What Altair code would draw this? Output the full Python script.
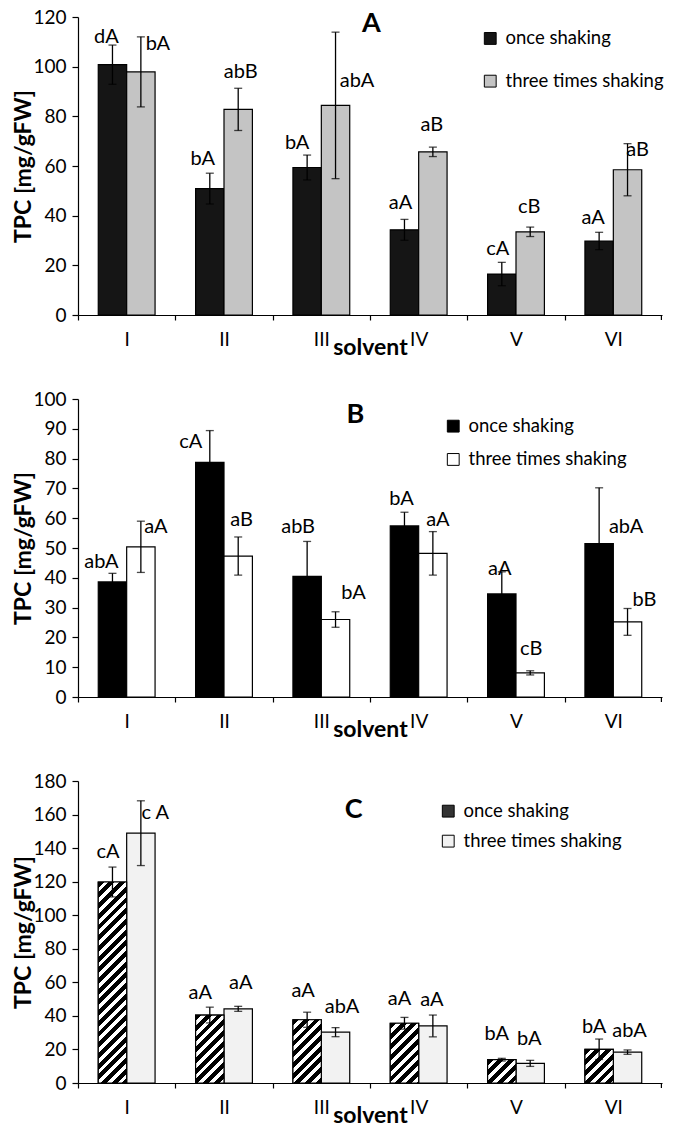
import altair as alt
import pandas as pd

# ---------------- data ----------------
solvents = ["I", "II", "III", "IV", "V", "VI"]
series = ["once shaking", "three times shaking"]

# Panel A
a_once = [100.8, 50.9, 59.4, 34.3, 16.5, 29.8]
a_once_err = [7.9, 6.2, 5.0, 4.2, 4.7, 3.5]
a_three = [97.9, 82.8, 84.4, 65.7, 33.5, 58.5]
a_three_err = [14.1, 8.5, 29.5, 1.9, 1.9, 10.5]
a_once_lab = ["dA", "bA", "bA", "aA", "cA", "aA"]
a_three_lab = ["bA", "abB", "abA", "aB", "cB", "aB"]

# Panel B
b_once = [38.6, 78.7, 40.5, 57.4, 34.6, 51.5]
b_once_err = [2.9, 10.7, 11.7, 4.6, 7.4, 18.7]
b_three = [50.4, 47.3, 26.0, 48.2, 8.1, 25.2]
b_three_err = [8.6, 6.4, 2.6, 7.3, 0.7, 4.5]
b_once_lab = ["abA", "cA", "abB", "bA", "aA", "abA"]
b_three_lab = ["aA", "aB", "bA", "aA", "cB", "bB"]

# Panel C
c_once = [119.8, 40.5, 37.7, 35.6, 13.9, 20.1]
c_once_err = [8.9, 4.7, 4.5, 3.5, 0.8, 6.1]
c_three = [148.9, 44.2, 30.3, 34.0, 11.7, 18.4]
c_three_err = [19.3, 1.5, 2.7, 6.5, 1.8, 1.3]
c_once_lab = ["cA", "aA", "aA", "aA", "bA", "bA"]
c_three_lab = ["c A", "aA", "abA", "aA", "bA", "abA"]

# ---------------- style ----------------
FONT = "Lato"
WIDTH = 584
P_IN = 0.4164
P_OUT = 0.2082
STEP = WIDTH / 6.0
SUBBAND = STEP * (1 - P_IN) / 2.0

# label nudges (dx, dy) in pixels relative to the top of the error bar
a_once_nudge = [(-6, -8), (-7, -14), (-10, -12), (-4, -16), (-4, -13), (-6, -14)]
a_three_nudge = [(17, 7), (2.5, -16), (21.5, 49), (-1, -22), (-1, -20), (10, 6)]
b_once_nudge = [(-11, -11), (-19, 11), (-9, -14), (-3, -13), (-2, -3), (27, 39)]
b_three_nudge = [(15, 6), (3.5, -17), (18, -19), (5, -12), (1, -22), (17, -8)]
c_once_nudge = [(-4.5, -15), (-9.6, -14), (-4, -21), (-5, -18), (-5, -24), (-5, -12)]
c_three_nudge = [(14.5, 12.5), (2.5, -23), (6.5, -21), (-1, -15), (-1, -21), (2, -19)]


def make_df(once, once_err, three, three_err, once_lab, three_lab):
    rows = []
    for i, s in enumerate(solvents):
        for ser, vals, errs, labs in ((series[0], once, once_err, once_lab),
                                      (series[1], three, three_err, three_lab)):
            v, e = vals[i], errs[i]
            rows.append({"solvent": s, "series": ser, "value": v, "err": e,
                         "lo": v - e, "hi": v + e, "label": labs[i]})
    return pd.DataFrame(rows)


def hatch(w, h, period=10.7, frac=0.55):
    a = (w + h) / (w * w + h * h)
    n = (w + h) / period
    stops = []
    k = 0
    while k < n:
        s0 = k / n
        s1 = min((k + frac) / n, 1.0)
        s2 = min((k + 1) / n, 1.0)
        stops += [alt.GradientStop(offset=s0, color="black"),
                  alt.GradientStop(offset=s1, color="black"),
                  alt.GradientStop(offset=s1, color="white"),
                  alt.GradientStop(offset=s2, color="white")]
        k += 1
    return alt.LinearGradient(gradient="linear", stops=stops,
                              x1=0, y1=0, x2=a * w, y2=a * h)


def panel(df, ymax, ystep, height, fills, letter, letter_pos, leg_x, leg_y,
          row_pad, once_nudge, three_nudge, hatch_once=False):
    yaxis = alt.Axis(values=list(range(0, ymax + 1, ystep)), title="TPC [mg/gFW]",
                     titleFontSize=23, titleFontWeight="bold", titleColor="black",
                     titleX=-55, titleY=height / 2, titleBaseline="middle",
                     labelFontSize=19, labelColor="black", labelPadding=6,
                     labelOverlap=False, labelFlush=False,
                     tickSize=6, domainColor="black", tickColor="black",
                     domainWidth=1.2, tickWidth=1.2, grid=False)
    xaxis = alt.Axis(title="solvent", labelAngle=0, tickOffset=-STEP / 2,
                     labelOffset=STEP / 2, tickSize=5, labelPadding=10,
                     labelFontSize=19, labelColor="black", domainColor="black",
                     tickColor="black", domainWidth=1.2, tickWidth=1.2,
                     titleFontSize=23, titleFontWeight="bold", titleColor="black",
                     titleX=WIDTH / 2, titleY=32, titleBaseline="middle",
                     titleAlign="center")
    xenc = alt.X("solvent:N",
                 scale=alt.Scale(domain=solvents, paddingInner=P_IN, paddingOuter=P_OUT),
                 axis=xaxis)
    xn = alt.X("solvent:N", axis=xaxis)
    xoff = alt.XOffset("series:N", scale=alt.Scale(domain=series, paddingInner=0, paddingOuter=0))
    xo = alt.XOffset("series:N")
    yenc = alt.Y("value:Q", scale=alt.Scale(domain=[0, ymax], nice=False, zero=True), axis=yaxis)

    def yq(field):
        return alt.Y(field, axis=yaxis)

    base = alt.Chart(df)
    bars = base.mark_bar(stroke="black", strokeWidth=1.2).encode(
        x=xenc, xOffset=xoff, y=yenc,
        fill=alt.Fill("series:N", scale=alt.Scale(domain=series, range=fills),
                      legend=alt.Legend(title=None, orient="none", legendX=leg_x, legendY=leg_y,
                                        symbolType="square", symbolSize=140,
                                        symbolStrokeColor="black", symbolStrokeWidth=1,
                                        labelFontSize=18.5, labelColor="black", labelFont=FONT,
                                        labelLimit=400, labelOffset=6, rowPadding=row_pad,
                                        padding=0)))
    layers = [bars]

    if hatch_once:
        sub = df[df["series"] == series[0]]
        for _, r in sub.iterrows():
            h = r["value"] * height / ymax
            one = pd.DataFrame([r])
            layers.append(alt.Chart(one).mark_bar(
                fill=hatch(SUBBAND, h), stroke="black", strokeWidth=1.2).encode(
                x=xn, xOffset=xo, y=yq("value:Q")))

    rules = base.mark_rule(color="black", strokeWidth=1.3).encode(
        x=xn, xOffset=xo, y=yq("lo:Q"), y2="hi:Q")
    caps_hi = base.mark_tick(color="black", size=8, thickness=1.3).encode(
        x=xn, xOffset=xo, y=yq("hi:Q"))
    caps_lo = base.mark_tick(color="black", size=8, thickness=1.3).encode(
        x=xn, xOffset=xo, y=yq("lo:Q"))
    layers += [rules, caps_hi, caps_lo]

    for ser, nudges in ((series[0], once_nudge), (series[1], three_nudge)):
        sub = df[df["series"] == ser].reset_index(drop=True)
        for i, r in sub.iterrows():
            dx, dy = nudges[i]
            layers.append(alt.Chart(pd.DataFrame([r])).mark_text(
                fontSize=20, font=FONT, color="black", dx=dx, dy=dy, baseline="middle").encode(
                x=xn, xOffset=xo, y=yq("hi:Q"), text="label:N"))

    # closing tick at the right end of the category axis
    end_tick = alt.Chart(pd.DataFrame({"k": [0]})).mark_rule(color="black", strokeWidth=1.2).encode(
        x=alt.value(WIDTH - 0.6), y=alt.value(height), y2=alt.value(height + 5))
    layers.append(end_tick)

    lt = alt.Chart(pd.DataFrame({"t": [letter]})).mark_text(
        fontSize=27, fontWeight="bold", font=FONT, color="black", baseline="middle").encode(
        text="t:N", x=alt.value(letter_pos[0]), y=alt.value(letter_pos[1]))
    layers.append(lt)

    return alt.layer(*layers).properties(width=WIDTH, height=height)


dfa = make_df(a_once, a_once_err, a_three, a_three_err, a_once_lab, a_three_lab)
dfb = make_df(b_once, b_once_err, b_three, b_three_err, b_once_lab, b_three_lab)
dfc = make_df(c_once, c_once_err, c_three, c_three_err, c_once_lab, c_three_lab)

pa = panel(dfa, 120, 20, 298, ["#151515", "#c4c4c4"], "A", (293.3, 6.5), 403, 12.2, 23.7,
           a_once_nudge, a_three_nudge)
pb = panel(dfb, 100, 10, 298, ["black", "white"], "B", (277.3, 15.5), 366, 17.9, 14.3,
           b_once_nudge, b_three_nudge)
pc = panel(dfc, 180, 20, 302, ["#333333", "#f2f2f2"], "C", (275.7, 28.5), 361, 20.9, 11,
           c_once_nudge, c_three_nudge, hatch_once=True)

chart = alt.vconcat(pa, pb, pc, spacing=84, bounds="flush").resolve_scale(
    fill="independent", x="independent", y="independent"
).properties(
    padding={"left": 4, "top": 0, "right": 0, "bottom": 0}
).configure(font=FONT).configure_view(stroke=None).configure_axis(labelOverlap=False)

chart.save("out.html", embed_options={"renderer": "svg", "actions": False})
